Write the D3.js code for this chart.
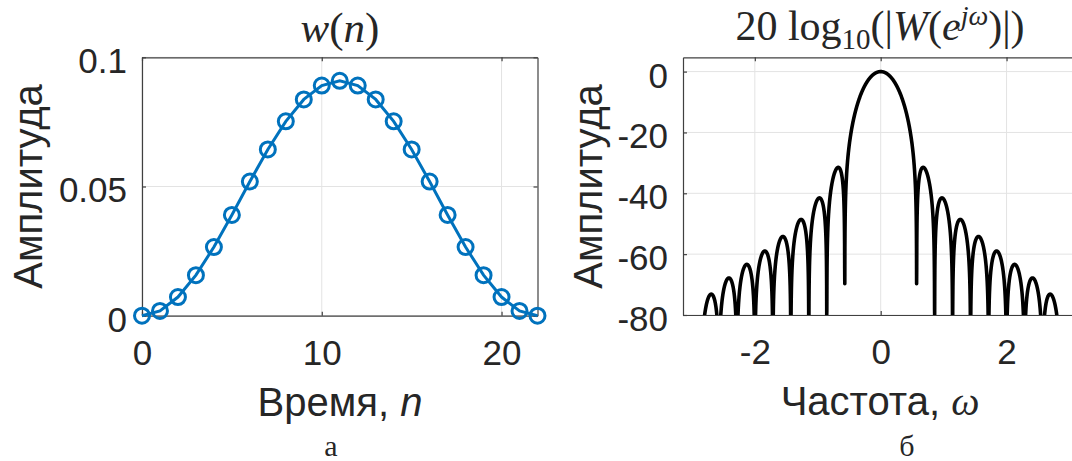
<!DOCTYPE html>
<html><head><meta charset="utf-8">
<script src="https://cdn.jsdelivr.net/npm/d3@7"></script>
<style>body{margin:0;background:#fff;} text{fill:#262626;}</style>
</head><body>
<svg id="chart" width="1072" height="461"></svg>
<script>
// ---- data ----
const sampleIndex = [0,1,2,3,4,5,6,7,8,9,10,11,12,13,14,15,16,17,18,19,20,21,22];
const windowValues = [0, 0.001841228, 0.007215749, 0.015688148, 0.026572045, 0.038985689,
  0.051923402, 0.064337046, 0.075220943, 0.083693342, 0.089067862, 0.090909091,
  0.089067862, 0.083693342, 0.075220943, 0.064337046, 0.051923402, 0.038985689,
  0.026572045, 0.015688148, 0.007215749, 0.001841228, 0];
const leftXTicks = [0, 10, 20];
const leftYTicks = [0, 0.05, 0.1];
const leftYTickLabels = ["0", "0.05", "0.1"];
const rightXTicks = [-2, 0, 2];
const rightXTickLabels = ["-2", "0", "2"];
const rightYTicks = [0, -20, -40, -60, -80];
const rightYTickLabels = ["0", "-20", "-40", "-60", "-80"];
const fftSize = 4096;

// spectrum of the window (DTFT sampled on an fftshift-ed grid)
const omega = d3.range(fftSize).map(k => -Math.PI + 2 * Math.PI * k / fftSize);
const spectrumDb = omega.map(w => {
  let re = 0, im = 0;
  for (let i = 0; i < windowValues.length; i++) {
    re += windowValues[i] * Math.cos(w * sampleIndex[i]);
    im -= windowValues[i] * Math.sin(w * sampleIndex[i]);
  }
  return Math.max(20 * Math.log10(Math.hypot(re, im)), -300);
});

const svg = d3.select("#chart");
const textColor = "#262626", axisColor = "#404040", gridColor = "#e3e3e3";
const tickFont = 35, labelFont = 40;

function panel(o) {
  const g = svg.append("g");
  const x = d3.scaleLinear().domain(o.xDomain).range([o.left, o.right]);
  const y = d3.scaleLinear().domain(o.yDomain).range([o.bottom, o.top]);
  const clipId = "clip" + o.id;
  svg.append("clipPath").attr("id", clipId).append("rect")
    .attr("x", o.left).attr("y", o.top).attr("width", o.right - o.left).attr("height", o.bottom - o.top);
  // grid
  g.append("g").selectAll("line").data(o.xTicks).join("line")
    .attr("x1", d => x(d)).attr("x2", d => x(d)).attr("y1", o.top).attr("y2", o.bottom)
    .attr("stroke", gridColor).attr("stroke-width", 1);
  g.append("g").selectAll("line").data(o.yTicks).join("line")
    .attr("y1", d => y(d)).attr("y2", d => y(d)).attr("x1", o.left).attr("x2", o.right)
    .attr("stroke", gridColor).attr("stroke-width", 1);
  // axes
  const styleAxis = sel => {
    sel.select(".domain").attr("stroke", axisColor).attr("stroke-width", 1.2);
    sel.selectAll(".tick line").attr("stroke", axisColor).attr("stroke-width", 1.2);
    sel.selectAll(".tick text").attr("fill", textColor).attr("font-family", "Liberation Sans, Arial, sans-serif").attr("font-size", tickFont);
  };
  g.append("g").attr("transform", `translate(0,${o.bottom})`)
    .call(d3.axisBottom(x).tickValues(o.xTicks).tickSize(-4).tickSizeOuter(0).tickPadding(24)
      .tickFormat((d, i) => o.xLabels[i]))
    .call(styleAxis);
  g.append("g").attr("transform", `translate(0,${o.top})`)
    .call(d3.axisTop(x).tickValues(o.xTicks).tickSize(-4).tickSizeOuter(0).tickFormat(""))
    .call(styleAxis);
  const ya = g.append("g").attr("transform", `translate(${o.left},0)`)
    .call(d3.axisLeft(y).tickValues(o.yTicks).tickSize(-4).tickSizeOuter(0).tickPadding(15)
      .tickFormat((d, i) => o.yLabels[i]))
    .call(styleAxis);
  ya.selectAll(".tick text").attr("dy", "0.44em");
  if (o.right <= 1072) {
    g.append("g").attr("transform", `translate(${o.right},0)`)
      .call(d3.axisRight(y).tickValues(o.yTicks).tickSize(-4).tickSizeOuter(0).tickFormat(""))
      .call(styleAxis);
  }
  return {g, x, y, clipId};
}

// ---- left panel ----
const L = panel({id: "L", left: 142, right: 537.5, top: 57.3, bottom: 315.7,
  xDomain: [0, 22], yDomain: [0, 0.1], xTicks: leftXTicks, yTicks: leftYTicks,
  xLabels: leftXTicks.map(String), yLabels: leftYTickLabels});
const blue = "#0072BD";
L.g.append("path").datum(sampleIndex)
  .attr("d", d3.line().x(i => L.x(sampleIndex[i])).y(i => L.y(windowValues[i])))
  .attr("fill", "none").attr("stroke", blue).attr("stroke-width", 3);
L.g.append("g").selectAll("circle").data(sampleIndex).join("circle")
  .attr("cx", i => L.x(sampleIndex[i])).attr("cy", i => L.y(windowValues[i])).attr("r", 7.5)
  .attr("fill", "none").attr("stroke", blue).attr("stroke-width", 3);

// ---- right panel ----
const R = panel({id: "R", left: 683, right: 1078.4, top: 57.3, bottom: 315,
  xDomain: [-Math.PI, Math.PI], yDomain: [-80, 4.7], xTicks: rightXTicks, yTicks: rightYTicks,
  xLabels: rightXTickLabels, yLabels: rightYTickLabels});
R.g.append("path").datum(omega)
  .attr("clip-path", `url(#${R.clipId})`)
  .attr("d", d3.line().x((w) => R.x(w)).y((w, i) => R.y(spectrumDb[i])))
  .attr("fill", "none").attr("stroke", "#000").attr("stroke-width", 3.6).attr("stroke-linejoin", "round");

// ---- texts ----
const sans = "Liberation Sans, Arial, sans-serif", serif = "Liberation Serif, Times New Roman, serif";
function ylabel(cx, cy, txt) {
  svg.append("text").attr("transform", `translate(${cx},${cy}) rotate(-90)`)
    .attr("text-anchor", "middle").attr("font-family", sans).attr("font-size", labelFont).text(txt);
}
ylabel(42, 186.5, "Амплитуда");
ylabel(602, 186.5, "Амплитуда");

const xl1 = svg.append("text").attr("x", 340).attr("y", 416).attr("text-anchor", "middle")
  .attr("font-family", sans).attr("font-size", labelFont);
xl1.append("tspan").text("Время, ");
xl1.append("tspan").attr("font-style", "italic").text("n");

const xl2 = svg.append("text").attr("x", 880).attr("y", 415).attr("text-anchor", "middle")
  .attr("font-family", sans).attr("font-size", labelFont);
xl2.append("tspan").text("Частота, ");
xl2.append("tspan").attr("font-style", "italic").attr("font-family", serif).text("ω");

const t1 = svg.append("text").attr("x", 340).attr("y", 42).attr("text-anchor", "middle")
  .attr("font-family", serif).attr("font-size", 43);
t1.append("tspan").attr("font-style", "italic").text("w");
t1.append("tspan").text("(");
t1.append("tspan").attr("font-style", "italic").text("n");
t1.append("tspan").text(")");

const t2 = svg.append("text").attr("x", 880).attr("y", 40).attr("text-anchor", "middle")
  .attr("font-family", serif).attr("font-size", 42);
t2.append("tspan").text("20 log");
t2.append("tspan").attr("font-size", 29).attr("dy", 9).text("10");
t2.append("tspan").attr("dy", -9).text("(|");
t2.append("tspan").attr("font-style", "italic").text("W");
t2.append("tspan").text("(");
t2.append("tspan").attr("font-style", "italic").text("e");
t2.append("tspan").attr("font-style", "italic").attr("font-size", 28).attr("dy", -15).text("jω");
t2.append("tspan").attr("dy", 15).text(")|)");

svg.append("text").attr("x", 331).attr("y", 456).attr("text-anchor", "middle")
  .attr("font-family", serif).attr("font-size", 30).text("а");
svg.append("text").attr("x", 907).attr("y", 456).attr("text-anchor", "middle")
  .attr("font-family", serif).attr("font-size", 30).text("б");
</script>
</body></html>
